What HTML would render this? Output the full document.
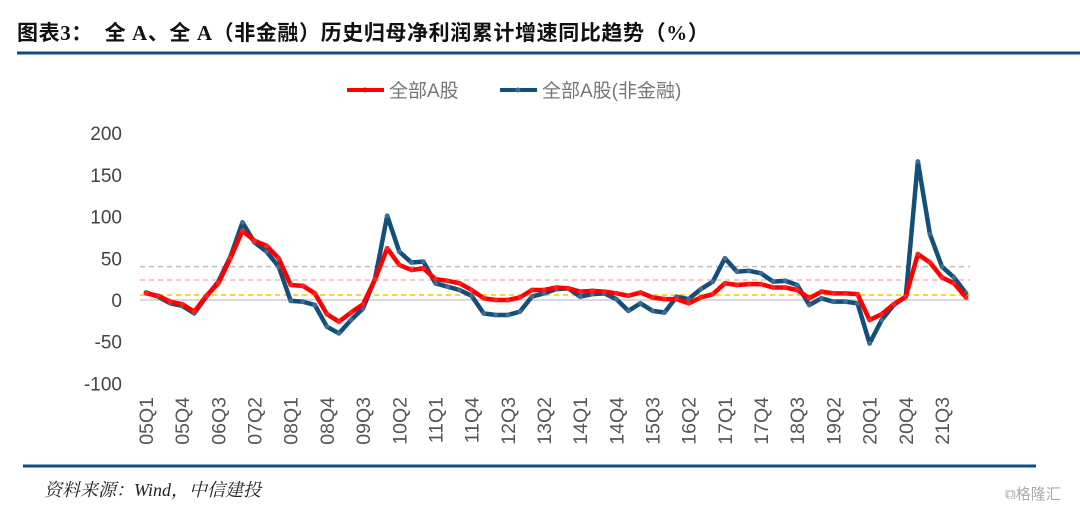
<!DOCTYPE html>
<html><head><meta charset="utf-8"><style>
body{margin:0;background:#fff;width:1080px;height:511px;overflow:hidden;position:relative;font-family:"Liberation Sans","Noto Sans CJK SC",sans-serif}
.title{position:absolute;left:17px;top:17px;font-size:21px;font-weight:bold;color:#111;font-family:"Liberation Serif","Noto Sans CJK SC",sans-serif;letter-spacing:0.6px}
.src{position:absolute;left:44px;top:476px;font-size:18px;font-style:italic;color:#222;font-family:"Liberation Serif","Noto Serif CJK SC",serif}
.wm{position:absolute;left:1005px;top:483px;font-size:15px;color:#aaa}
</style></head><body>
<div class="title">图表3：&nbsp; 全 A、全 A（非金融）历史归母净利润累计增速同比趋势（%）</div>
<svg width="1080" height="511" style="position:absolute;left:0;top:0" id="chart">
<line x1="17" y1="53" x2="1080" y2="53" stroke="#0f4c81" stroke-width="3"/>
<line x1="23" y1="466" x2="1036" y2="466" stroke="#0f4c81" stroke-width="3"/>
<g>
<g><line x1="347" y1="90" x2="384" y2="90" stroke="#ff0000" stroke-width="4"/><circle cx="365" cy="90" r="2.5" fill="#ff0000"/><text x="389" y="97" font-size="19" fill="#777">全部A股</text></g>
<g><line x1="500" y1="90" x2="537" y2="90" stroke="#144f7a" stroke-width="4"/><circle cx="518" cy="90" r="2.5" fill="#3f6c94"/><text x="542" y="97" font-size="19" fill="#777">全部A股(非金融)</text></g>
</g>
<g id="axes"></g><g id="series"></g>
</svg>
<div class="src">资料来源：Wind，中信建投</div>
<div class="wm">⧉格隆汇</div>
<script>
const quarters=[];for(let y=5;y<=22;y++)for(let q=1;q<=4;q++){if(y===22&&q>1)break;quarters.push(String(y).padStart(2,'0')+'Q'+q);}
const yTicks=[200,150,100,50,0,-50,-100];
const refLines=[40,24,6];
const allA=[8,5,-2,-5,-14,5,20,50,83,71,65,50,18,17,8,-17,-26,-15,-5,25,62,42,36,38,25,23,20,12,2,0,0,3,12,12,15,14,10,11,10,8,5,9,3,1,1,-4,3,7,20,18,19,19,15,15,12,2,10,8,8,7,-24,-17,-5,4,55,45,27,20,3];
const nonFin=[9,4,-4,-7,-16,4,22,52,93,69,58,40,-1,-2,-6,-32,-40,-24,-10,26,101,58,45,46,20,16,12,5,-16,-18,-18,-14,4,8,13,14,4,7,8,1,-13,-4,-13,-15,4,1,13,22,50,34,35,32,22,23,18,-6,2,-2,-2,-4,-52,-24,-6,4,166,79,40,27,8];
const NS='http://www.w3.org/2000/svg';
const x0=146,dx=12.06,y0=300,ky=0.834;
const X=i=>x0+i*dx, Y=v=>y0-v*ky;
const ax=document.getElementById('axes'),se=document.getElementById('series');
function mk(t,a,p){const e=document.createElementNS(NS,t);for(const k in a)e.setAttribute(k,a[k]);p.appendChild(e);return e;}
const z=mk('line',{x1:140,x2:970,y1:Y(0),y2:Y(0),stroke:'#d9d9d9','stroke-width':2},ax);


const rc=['#bdbdbd','#ffb3b3','#ffc000'];
refLines.forEach((v,i)=>{const l=mk('line',{x1:140,x2:970,y1:Y(v),y2:Y(v),stroke:rc[i],'stroke-width':1.5,'stroke-dasharray':'5,4'},ax);

});
yTicks.forEach(v=>{const t=mk('text',{x:122,y:Y(v)+7,'text-anchor':'end','font-size':19,fill:'#444'},ax);t.textContent=v;

});
quarters.forEach((q,i)=>{if(i%3)return;const t=mk('text',{x:0,y:0,'text-anchor':'end','font-size':19.5,fill:'#555',transform:`translate(${X(i)+7},397) rotate(-90)`},ax);t.textContent=q;

});
function draw(d,c,mc,name){const p=mk('polyline',{points:d.map((v,i)=>X(i)+','+Y(v)).join(' '),fill:'none',stroke:c,'stroke-width':4.5,'stroke-linejoin':'round'},se);


d.forEach((v,i)=>{const m=mk('circle',{cx:X(i),cy:Y(v),r:2.4,fill:mc},se);

});}
draw(nonFin,'#144f7a','#3f6c94','series-non-financial');
draw(allA,'#ff0000','#ff2020','series-all-a');
</script>
</body></html>
